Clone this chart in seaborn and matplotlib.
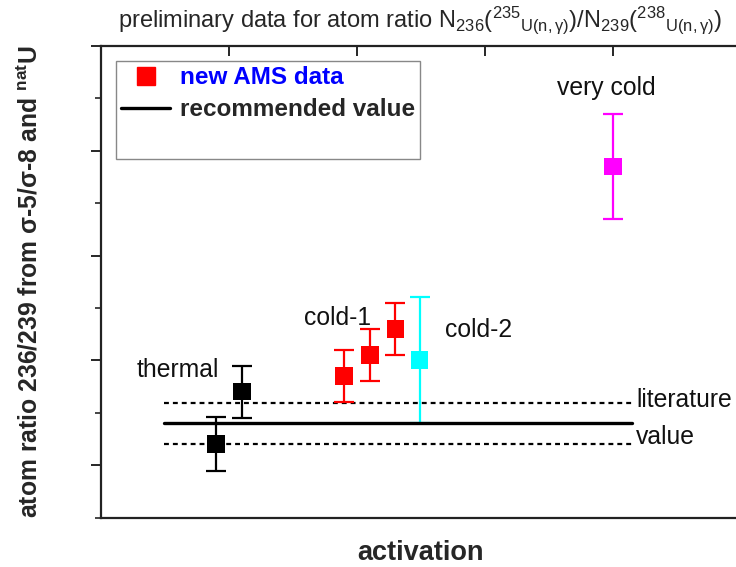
import matplotlib
matplotlib.use("Agg")
import matplotlib.pyplot as plt
from matplotlib.lines import Line2D
from matplotlib.ticker import MultipleLocator, NullLocator
import seaborn as sns
import pandas as pd

# ---------------- data ----------------
groups = ["thermal", "thermal", "cold-1", "cold-1", "cold-1", "cold-2", "very cold"]
activation = [0.90, 1.10, 1.90, 2.10, 2.30, 2.49, 4.00]
ratio = [1.40, 2.40, 2.70, 3.10, 3.60, 3.01, 6.70]
ratio_err = [0.51, 0.50, 0.50, 0.49, 0.49, 1.20, 1.00]
point_colors = ["black", "black", "#ff0000", "#ff0000", "#ff0000", "#00ffff", "#ff00ff"]

recommended_value = 1.80
literature_band = [1.40, 2.19]
recommended_span = [0.49, 4.15]

group_labels = ["thermal", "cold-1", "cold-2", "very cold"]
group_label_x = [0.60, 1.85, 2.95, 3.95]
group_label_y = [2.82, 3.80, 3.58, 8.20]

title_text = (r"preliminary data for atom ratio N$_{236}$($^{235}$$_{\mathrm{U(n,\gamma)}}$)"
              r"/N$_{239}$($^{238}$$_{\mathrm{U(n,\gamma)}}$)")
ylabel_text = r"atom ratio 236/239 from σ-5/σ-8 and $^{\mathbf{nat}}$U"
xlabel_text = "activation"
legend_labels = ["new AMS data", "recommended value"]

df = pd.DataFrame({"group": groups, "activation": activation, "ratio": ratio,
                   "err": ratio_err, "color": point_colors})

# ---------------- style ----------------
sns.set_style("white")
plt.rcParams["font.family"] = ["Liberation Sans", "DejaVu Sans"]
plt.rcParams["mathtext.fontset"] = "custom"
plt.rcParams["mathtext.rm"] = "Liberation Sans"
plt.rcParams["mathtext.it"] = "Liberation Sans:italic"
plt.rcParams["mathtext.bf"] = "Liberation Sans:bold"

fig = plt.figure(figsize=(7.36, 5.67), dpi=100)
ax = fig.add_axes([101 / 736, 1 - 517.5 / 567, 640 / 736, 471.5 / 567])

# error bars
for _, r in df.iterrows():
    ax.errorbar(r["activation"], r["ratio"], yerr=r["err"], fmt="none",
                ecolor=r["color"], elinewidth=1.6, capsize=7.2, capthick=1.6, zorder=2)

# squares via seaborn
sns.scatterplot(data=df, x="activation", y="ratio", hue="color",
                palette={c: c for c in set(point_colors)}, marker="s", s=158,
                linewidth=0, legend=False, ax=ax, zorder=3)

# recommended value and literature band
ax.plot(recommended_span, [recommended_value] * 2, color="black", lw=2.4, zorder=4)
for yb in literature_band:
    ax.plot(recommended_span, [yb] * 2, color="black", lw=1.6, ls=(0, (2.2, 1.8)), zorder=1)

# text annotations
for t, x, y in zip(group_labels, group_label_x, group_label_y):
    ax.text(x, y, t, ha="center", va="center", fontsize=17.8, color="#111111")
ax.text(recommended_span[1] + 0.03, literature_band[1] + 0.05, "literature",
        ha="left", va="center", fontsize=17.8, color="#111111")
ax.text(recommended_span[1] + 0.03, literature_band[0] + 0.13, "value",
        ha="left", va="center", fontsize=17.8, color="#111111")

# axes
ax.set_xlim(0, 5)
ax.set_ylim(0, 9)
ax.xaxis.set_major_locator(MultipleLocator(1))
ax.xaxis.set_minor_locator(NullLocator())
ax.yaxis.set_major_locator(MultipleLocator(2, offset=1))
ax.yaxis.set_minor_locator(MultipleLocator(2))
ax.tick_params(axis="x", which="both", bottom=False, top=True, direction="in",
               length=7, width=1.4, labelbottom=False, labeltop=False)
ax.tick_params(axis="y", which="major", left=True, right=True, direction="out",
               length=7, width=1.4, labelleft=False, labelright=False)
ax.tick_params(axis="y", which="minor", left=True, right=True, direction="out",
               length=4, width=1.2)
for sp in ax.spines.values():
    sp.set_linewidth(1.6)
    sp.set_color("#222222")

ax.set_xlabel(xlabel_text, fontsize=19.5, fontweight="bold", labelpad=16)
ax.set_ylabel(ylabel_text, fontsize=17.8, fontweight="bold", labelpad=35)
ax.set_title(title_text, fontsize=17, pad=14, x=(420 - 101) / 640)

handles = [
    Line2D([], [], marker="s", color="#ff0000", ls="none", markersize=12.5),
    Line2D([], [], color="black", lw=2.4),
    Line2D([], [], color="none"),
]
leg = ax.legend(handles, legend_labels + [" "], loc="upper left",
                bbox_to_anchor=(0.0234, 0.968), borderaxespad=0, frameon=True,
                fancybox=False, edgecolor="#888888", framealpha=1,
                prop={"weight": "bold", "size": 17.5}, handlelength=2.0,
                handletextpad=0.4, labelspacing=0.37, borderpad=0.22)
leg.get_frame().set_linewidth(1.0)
leg.get_texts()[0].set_color("#0000ff")

fig.savefig("out.png", dpi=100)
